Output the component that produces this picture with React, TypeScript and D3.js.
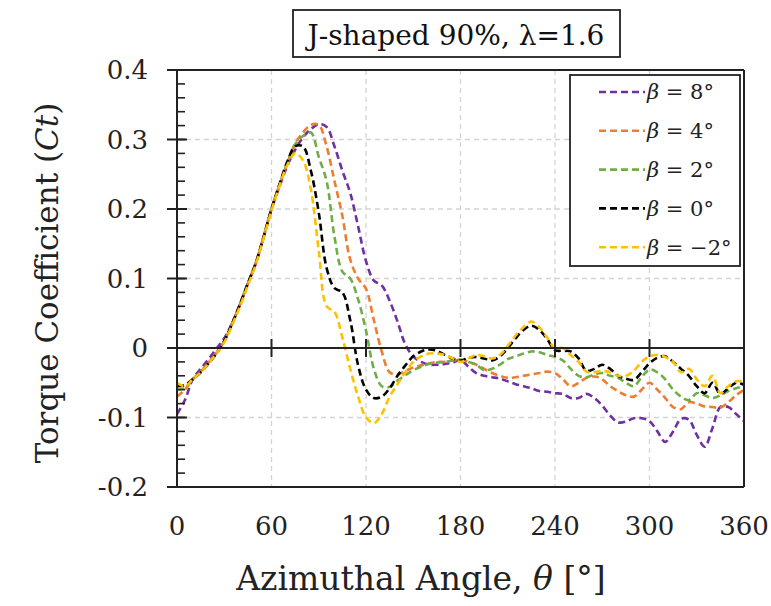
import React, { useEffect, useRef } from 'react';
import * as d3 from 'd3';

// azimuthal angle, every 5 degrees
const angles = d3.range(0, 361, 5);

const beta8 = [
  -0.095, -0.075, -0.045, -0.03, -0.016, -0.001, 0.014, 0.036, 0.063, 0.093, 0.122, 0.16, 0.2,
  0.232, 0.262, 0.285, 0.303, 0.315, 0.322, 0.318, 0.29, 0.255, 0.223, 0.175, 0.125, 0.097, 0.09,
  0.068, 0.038, 0.005, -0.012, -0.02, -0.024, -0.024, -0.023, -0.021, -0.017,
  -0.027, -0.036, -0.04, -0.042, -0.044, -0.048, -0.052, -0.055, -0.058, -0.062, -0.063, -0.065,
  -0.066, -0.072, -0.072, -0.066, -0.072, -0.083, -0.097, -0.107, -0.106, -0.101, -0.101, -0.105,
  -0.12, -0.135, -0.12, -0.102, -0.103, -0.125, -0.142, -0.115, -0.085, -0.085, -0.095, -0.105,
];
const beta4 = [
  -0.07, -0.06, -0.045, -0.034, -0.021, -0.007, 0.01, 0.035, 0.063, 0.093, 0.122, 0.16, 0.2,
  0.234, 0.266, 0.294, 0.31, 0.321, 0.321, 0.29, 0.24, 0.19, 0.127, 0.1, 0.085, 0.04, -0.005,
  -0.035, -0.038, -0.033, -0.028, -0.025, -0.022, -0.02, -0.02, -0.018, -0.017,
  -0.02, -0.024, -0.03, -0.036, -0.04, -0.043, -0.042, -0.04, -0.038, -0.036, -0.034, -0.036,
  -0.045, -0.055, -0.05, -0.043, -0.041, -0.045, -0.055, -0.062, -0.068, -0.07, -0.06, -0.05,
  -0.06, -0.072, -0.085, -0.088, -0.078, -0.08, -0.084, -0.085, -0.086, -0.078, -0.068, -0.06,
];
const beta2 = [
  -0.06, -0.057, -0.045, -0.035, -0.022, -0.008, 0.01, 0.035, 0.063, 0.093, 0.122, 0.16, 0.2,
  0.235, 0.267, 0.293, 0.305, 0.31, 0.275, 0.24, 0.16, 0.11, 0.1, 0.07, 0.025, -0.03, -0.055,
  -0.056, -0.047, -0.039, -0.032, -0.027, -0.023, -0.021, -0.02, -0.018, -0.017,
  -0.02, -0.024, -0.032, -0.03, -0.024, -0.016, -0.012, -0.008, -0.005, -0.006, -0.01, -0.013,
  -0.018, -0.03, -0.04, -0.042, -0.038, -0.036, -0.04, -0.043, -0.05, -0.055, -0.042, -0.031,
  -0.035, -0.045, -0.06, -0.07, -0.075, -0.065, -0.068, -0.072, -0.068, -0.062, -0.058, -0.055,
];
const beta0 = [
  -0.055, -0.053, -0.045, -0.035, -0.022, -0.008, 0.01, 0.035, 0.063, 0.093, 0.122, 0.16, 0.2,
  0.235, 0.268, 0.29, 0.29, 0.255, 0.195, 0.115, 0.086, 0.08, 0.04, -0.025, -0.06, -0.072, -0.07,
  -0.058, -0.04, -0.025, -0.012, -0.005, -0.002, -0.004, -0.01, -0.015, -0.018,
  -0.014, -0.013, -0.015, -0.018, -0.012, 0.0, 0.014, 0.026, 0.032, 0.026, 0.013, -0.003,
  -0.004, -0.005, -0.015, -0.033, -0.03, -0.024, -0.03, -0.04, -0.044, -0.046, -0.035, -0.022,
  -0.014, -0.012, -0.02, -0.03, -0.04, -0.055, -0.065, -0.05, -0.066, -0.058, -0.05, -0.053,
];
const betaNeg2 = [
  -0.05, -0.055, -0.045, -0.035, -0.022, -0.008, 0.008, 0.033, 0.06, 0.09, 0.12, 0.158, 0.198,
  0.233, 0.263, 0.28, 0.27, 0.228, 0.14, 0.06, 0.052, 0.015, -0.03, -0.07, -0.1, -0.108, -0.095,
  -0.07, -0.052, -0.035, -0.02, -0.012, -0.008, -0.008, -0.01, -0.015, -0.02,
  -0.015, -0.01, -0.012, -0.015, -0.01, 0.003, 0.018, 0.03, 0.038, 0.03, 0.015, 0.0,
  0.0, -0.01, -0.02, -0.034, -0.035, -0.033, -0.035, -0.04, -0.04, -0.033, -0.02, -0.012,
  -0.01, -0.013, -0.02, -0.035, -0.03, -0.045, -0.055, -0.04, -0.065, -0.055, -0.048, -0.048,
];

const seriesNames = ['8°', '4°', '2°', '0°', '−2°'];
const seriesValues = [beta8, beta4, beta2, beta0, betaNeg2];
const seriesColors = ['#7030a0', '#ed7d31', '#70ad47', '#000000', '#ffc000'];

const xTicks = [0, 60, 120, 180, 240, 300, 360];
const yTicks = [-0.2, -0.1, 0, 0.1, 0.2, 0.3, 0.4];
const yTickLabels = ['-0.2', '-0.1', '0', '0.1', '0.2', '0.3', '0.4'];

const App = () => {
  const svgRef = useRef<SVGSVGElement>(null);

  useEffect(() => {
    const svg = d3.select(svgRef.current);
    svg.selectAll('*').remove();

    const font = "'DejaVu Serif', serif";
    const x = d3.scaleLinear().domain([0, 360]).range([177, 744]);
    const y = d3.scaleLinear().domain([-0.2, 0.4]).range([487, 70]);

    // grid
    const grid = svg.append('g')
      .attr('stroke', '#d4d4d4')
      .attr('stroke-width', 1.3)
      .attr('stroke-dasharray', '5,4');
    grid.selectAll('line.v')
      .data(xTicks.slice(1, -1))
      .join('line')
      .attr('x1', d => x(d)).attr('x2', d => x(d))
      .attr('y1', y(0.4)).attr('y2', y(-0.2));
    grid.selectAll('line.h')
      .data(yTicks.filter(d => d !== 0 && d !== 0.4 && d !== -0.2))
      .join('line')
      .attr('x1', x(0)).attr('x2', x(360))
      .attr('y1', d => y(d)).attr('y2', d => y(d));

    // curves
    const line = d3.line<number>()
      .x((_, i) => x(angles[i]))
      .y(d => y(d))
      .curve(d3.curveCatmullRom.alpha(0.5));

    svg.append('g')
      .selectAll('path')
      .data(seriesValues)
      .join('path')
      .attr('fill', 'none')
      .attr('stroke', (_, i) => seriesColors[i])
      .attr('stroke-width', 2.6)
      .attr('stroke-dasharray', '7,4')
      .attr('d', d => line(d));

    // frame and axes
    const axes = svg.append('g').attr('stroke', '#222').attr('stroke-width', 2);
    axes.append('line').attr('x1', x(0) - 10).attr('x2', x(360)).attr('y1', y(0.4)).attr('y2', y(0.4));
    axes.append('line').attr('x1', x(0) - 10).attr('x2', x(360)).attr('y1', y(-0.2)).attr('y2', y(-0.2));
    axes.append('line').attr('x1', x(360)).attr('x2', x(360)).attr('y1', y(0.4)).attr('y2', y(-0.2));
    axes.append('line').attr('x1', x(0)).attr('x2', x(0)).attr('y1', y(0.4)).attr('y2', y(-0.2));
    axes.append('line').attr('x1', x(0) - 10).attr('x2', x(360)).attr('y1', y(0)).attr('y2', y(0));

    // y ticks
    axes.selectAll('line.major')
      .data(yTicks)
      .join('line')
      .attr('x1', x(0) - 10).attr('x2', x(0) + 10)
      .attr('y1', d => y(d)).attr('y2', d => y(d));
    const minor = d3.range(-0.2, 0.4001, 0.02);
    axes.append('g').attr('stroke-width', 1.6)
      .selectAll('line')
      .data(minor)
      .join('line')
      .attr('x1', x(0)).attr('x2', x(0) + 8)
      .attr('y1', d => y(d)).attr('y2', d => y(d));

    // x ticks on the zero line
    axes.append('g')
      .selectAll('line')
      .data(xTicks.slice(1, -1))
      .join('line')
      .attr('x1', d => x(d)).attr('x2', d => x(d))
      .attr('y1', y(0) - 9).attr('y2', y(0) + 9);

    // tick labels
    svg.append('g')
      .selectAll('text')
      .data(yTicks)
      .join('text')
      .attr('x', 148)
      .attr('y', d => y(d))
      .attr('dy', '0.35em')
      .attr('text-anchor', 'end')
      .attr('font-family', font)
      .attr('font-size', 26)
      .attr('fill', '#222')
      .text((_, i) => yTickLabels[i]);

    svg.append('g')
      .selectAll('text')
      .data(xTicks)
      .join('text')
      .attr('x', d => x(d))
      .attr('y', 535)
      .attr('text-anchor', 'middle')
      .attr('font-family', font)
      .attr('font-size', 26)
      .attr('fill', '#222')
      .text(d => d);

    // axis titles
    const xt = svg.append('text')
      .attr('x', 421).attr('y', 590)
      .attr('text-anchor', 'middle')
      .attr('font-family', font)
      .attr('font-size', 33)
      .attr('fill', '#222');
    xt.append('tspan').text('Azimuthal Angle, ');
    xt.append('tspan').attr('font-style', 'italic').text('θ');
    xt.append('tspan').text(' [°]');

    const yt = svg.append('text')
      .attr('transform', 'translate(58,283) rotate(-90)')
      .attr('text-anchor', 'middle')
      .attr('font-family', font)
      .attr('font-size', 31)
      .attr('fill', '#222');
    yt.append('tspan').text('Torque Coefficient (');
    yt.append('tspan').attr('font-style', 'italic').text('Ct');
    yt.append('tspan').text(')');

    // title box
    svg.append('rect')
      .attr('x', 293).attr('y', 10).attr('width', 327).attr('height', 47)
      .attr('fill', 'white').attr('stroke', '#222').attr('stroke-width', 1.8);
    svg.append('text')
      .attr('x', 456).attr('y', 45)
      .attr('text-anchor', 'middle')
      .attr('font-family', font)
      .attr('font-size', 28)
      .attr('fill', '#111')
      .text('J-shaped 90%, λ=1.6');

    // legend
    const legend = svg.append('g');
    legend.append('rect')
      .attr('x', 570).attr('y', 75).attr('width', 170).attr('height', 191)
      .attr('fill', 'white').attr('stroke', '#222').attr('stroke-width', 1.8);
    const item = legend.selectAll('g.item')
      .data(seriesNames)
      .join('g')
      .attr('transform', (_, i) => `translate(0,${92 + i * 38.8})`);
    item.append('line')
      .attr('x1', 599).attr('x2', 645)
      .attr('y1', 0).attr('y2', 0)
      .attr('stroke', (_, i) => seriesColors[i])
      .attr('stroke-width', 2.6)
      .attr('stroke-dasharray', '7,4');
    const lt = item.append('text')
      .attr('x', 647).attr('y', 0).attr('dy', '0.35em')
      .attr('font-family', font)
      .attr('font-size', 21)
      .attr('fill', '#222');
    lt.append('tspan').attr('font-style', 'italic').text('β');
    lt.append('tspan').text(d => ` = ${d}`);
  }, []);

  return (
    <svg
      ref={svgRef}
      width={771}
      height={606}
      style={{ position: 'absolute', left: 0, top: 0, background: 'white' }}
    />
  );
};

export default App;
